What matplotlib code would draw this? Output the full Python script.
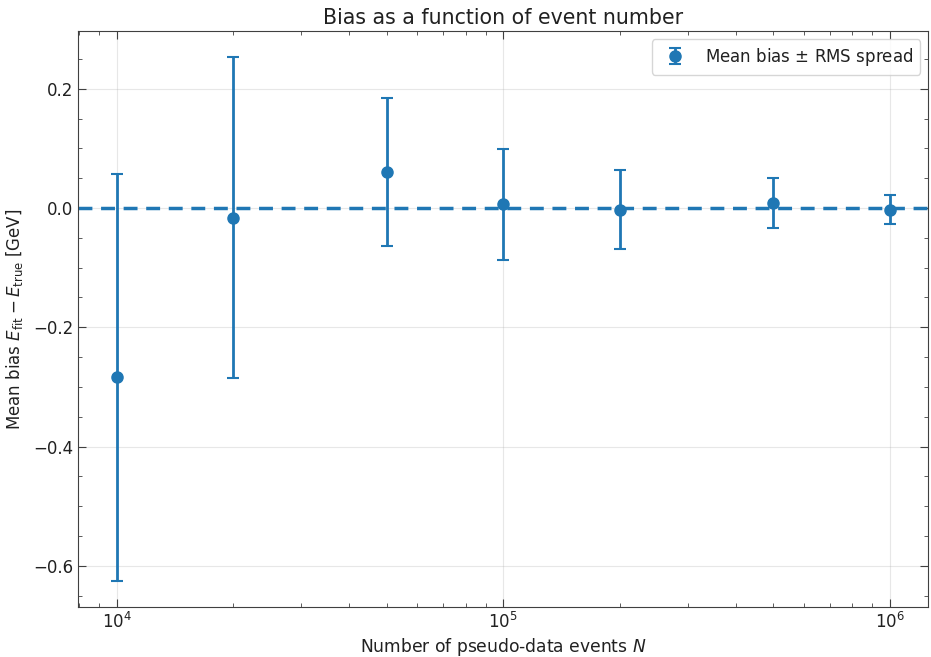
import matplotlib

matplotlib.use("Agg")
import matplotlib.pyplot as plt
import numpy as np

# Pseudo-experiment sizes and fitted energy bias (mean, RMS spread) in GeV
n_events = [1e4, 2e4, 5e4, 1e5, 2e5, 5e5, 1e6]
mean_bias = [-0.284, -0.016, 0.060, 0.006, -0.003, 0.008, -0.003]
rms_spread = [0.341, 0.269, 0.124, 0.093, 0.066, 0.042, 0.024]

COLOR = "#1f77b4"
TEXT = "0.13"

plt.rcParams["text.color"] = TEXT
plt.rcParams["axes.labelcolor"] = TEXT
plt.rcParams["xtick.labelcolor"] = TEXT
plt.rcParams["ytick.labelcolor"] = TEXT

fig, ax = plt.subplots(figsize=(9.31, 6.57), dpi=100)
fig.subplots_adjust(left=0.084, right=0.997, top=0.953, bottom=0.076)

ax.axhline(0.0, color=COLOR, ls="--", lw=2.5, dashes=(4, 2.5))
ax.errorbar(n_events, mean_bias, yerr=rms_spread, fmt="o", color=COLOR,
            ms=8, elinewidth=2, capsize=4, capthick=1.5,
            label=r"Mean bias $\pm$ RMS spread")

ax.set_xscale("log")
ax.set_xlabel(r"Number of pseudo-data events $N$", fontsize=12.3, labelpad=3)
ax.set_ylabel(r"Mean bias $E_{\rm fit} - E_{\rm true}$ [GeV]", fontsize=12,
              labelpad=6)
ax.set_title("Bias as a function of event number", fontsize=14.8, pad=5)

ax.grid(True, which="major", alpha=0.3)
ax.minorticks_on()
ax.tick_params(which="both", direction="in", top=True, right=True,
               labelsize=12, color="0.25")
ax.tick_params(which="major", length=6)
ax.tick_params(which="minor", length=3)
for sp in ax.spines.values():
    sp.set_color("0.25")

ax.legend(loc="upper right", fontsize=12)

fig.savefig("out.png", dpi=100)
